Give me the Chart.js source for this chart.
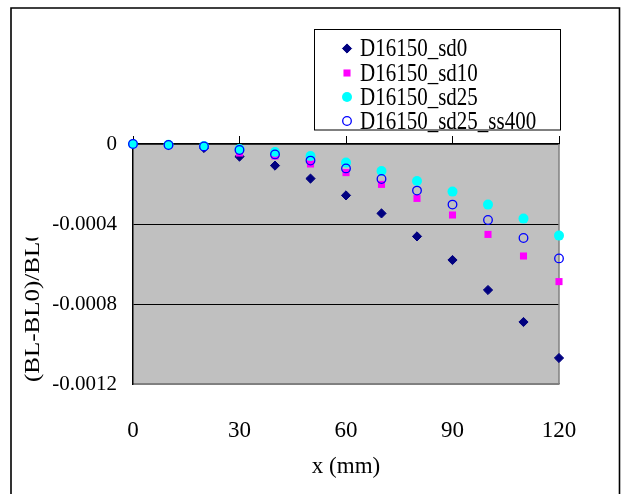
<!DOCTYPE html>
<html>
<head>
<meta charset="utf-8">
<script src="https://cdn.jsdelivr.net/npm/chart.js@4.4.1/dist/chart.umd.min.js"></script>
<style>
html,body{margin:0;padding:0;background:#fff;}
canvas{display:block;}
</style>
</head>
<body>
<canvas id="c" width="621" height="494"></canvas>
<script>
// ---- data ----
const xValues = [0, 10, 20, 30, 40, 50, 60, 70, 80, 90, 100, 110, 120];
const sd0 = [0, -0.000005, -0.00002, -0.000063, -0.000108, -0.000173, -0.000257, -0.000347, -0.000462, -0.00058, -0.00073, -0.00089, -0.00107];
const sd10 = [0, -0.000003, -0.00001, -0.000045, -0.00006, -0.0001, -0.000143, -0.000202, -0.000272, -0.000355, -0.000452, -0.00056, -0.000688];
const sd25 = [0, -0.000004, -0.00001, -0.000025, -0.00004, -0.00006, -0.000093, -0.000135, -0.000185, -0.000238, -0.000303, -0.000373, -0.000458];
const sd25ss400 = [0, -0.000005, -0.000012, -0.00003, -0.000052, -0.000083, -0.000122, -0.000175, -0.000233, -0.000303, -0.00038, -0.00047, -0.000572];
const seriesNames = ['D16150_sd0', 'D16150_sd10', 'D16150_sd25', 'D16150_sd25_ss400'];
const xTickLabels = ['0', '30', '60', '90', '120'];
const yTickLabels = ['0', '-0.0004', '-0.0008', '-0.0012'];
const xTitle = 'x (mm)';
const yTitle = '(BL-BL0)/BL0';

const FONT = "'Liberation Serif', 'Times New Roman', serif";

function pts(ys) { return xValues.map((x, i) => ({x: x, y: ys[i]})); }

const styles = [
  {pointStyle: 'rectRot', pointRadius: 4.6, backgroundColor: '#000080', borderColor: '#000080', pointBorderWidth: 1},
  {pointStyle: 'rect', pointRadius: 5, backgroundColor: '#FF00FF', borderColor: '#FF00FF', pointBorderWidth: 0},
  {pointStyle: 'circle', pointRadius: 5, backgroundColor: '#00FFFF', borderColor: '#00FFFF', pointBorderWidth: 0},
  {pointStyle: 'circle', pointRadius: 4.3, backgroundColor: 'rgba(0,0,0,0)', borderColor: '#0000FF', pointBorderWidth: 1.3}
];
const seriesData = [sd0, sd10, sd25, sd25ss400];

const datasets = seriesData.map((d, i) => Object.assign({
  label: seriesNames[i],
  data: pts(d),
  showLine: false,
  clip: false,
  order: 3 - i,
  pointBackgroundColor: styles[i].backgroundColor,
  pointBorderColor: styles[i].borderColor
}, styles[i]));

const decorPlugin = {
  id: 'decor',
  beforeDraw(chart) {
    const {ctx, chartArea: a} = chart;
    ctx.save();
    ctx.fillStyle = '#fff';
    ctx.fillRect(0, 0, chart.width, chart.height);
    ctx.fillStyle = '#C0C0C0';
    ctx.fillRect(a.left, a.top, a.right - a.left, a.bottom - a.top);
    ctx.restore();
  },
  beforeDatasetsDraw(chart) {
    const {ctx, chartArea: a} = chart;
    ctx.save();
    ctx.strokeStyle = '#808080';
    ctx.lineWidth = 1.5;
    ctx.beginPath();
    ctx.moveTo(a.right, a.top);
    ctx.lineTo(a.right, a.bottom);
    ctx.stroke();
    ctx.restore();
  },
  afterDraw(chart) {
    const ctx = chart.ctx;
    ctx.save();
    // outer frame
    ctx.strokeStyle = '#000';
    ctx.lineWidth = 1.6;
    ctx.beginPath();
    ctx.moveTo(11, 500);
    ctx.lineTo(11, 8);
    ctx.lineTo(619.5, 8);
    ctx.lineTo(619.5, 500);
    ctx.stroke();

    // y axis title (clipped like the original)
    ctx.save();
    ctx.beginPath();
    ctx.rect(0, 237.5, 100, 256);
    ctx.clip();
    ctx.translate(39, 382);
    ctx.rotate(-Math.PI / 2);
    ctx.scale(1.19, 1);
    ctx.font = '21px ' + FONT;
    ctx.fillStyle = '#000';
    ctx.textAlign = 'left';
    ctx.textBaseline = 'alphabetic';
    ctx.fillText(yTitle, 0, 0);
    ctx.restore();

    // legend
    const lx = 314, ly = 29.5, lw = 246, lh = 100.5;
    ctx.fillStyle = '#fff';
    ctx.fillRect(lx, ly, lw, lh);
    ctx.strokeStyle = '#000';
    ctx.lineWidth = 1;
    ctx.strokeRect(lx + 0.5, ly, lw, lh);
    ctx.font = '21px ' + FONT;
    ctx.textBaseline = 'middle';
    ctx.textAlign = 'left';
    const rows = [48.5, 73, 97, 121];
    chart.data.datasets.forEach((ds, i) => {
      const y = rows[i];
      ctx.fillStyle = ds.backgroundColor;
      ctx.strokeStyle = ds.borderColor;
      ctx.lineWidth = ds.pointBorderWidth;
      Chart.helpers.drawPoint(ctx, {
        pointStyle: ds.pointStyle, radius: ds.pointRadius, rotation: 0, borderWidth: ds.pointBorderWidth
      }, 347, y);
      ctx.save();
      ctx.translate(360, y + 1);
      ctx.scale(1, 1.18);
      ctx.fillStyle = '#000';
      ctx.fillText(ds.label, 0, 0);
      ctx.restore();
    });
    ctx.restore();
  }
};

new Chart(document.getElementById('c'), {
  type: 'scatter',
  data: {datasets: datasets},
  plugins: [decorPlugin],
  options: {
    responsive: false,
    animation: false,
    devicePixelRatio: 1,
    events: [],
    layout: {padding: {left: 0, right: 62, top: 136, bottom: 0}},
    plugins: {legend: {display: false}, tooltip: {enabled: false}},
    scales: {
      x: {
        type: 'linear', position: 'bottom', min: 0, max: 120,
        afterFit(s) { s.height = 110; },
        grid: {display: false},
        border: {display: true, color: '#808080', width: 1.5},
        ticks: {
          stepSize: 30, padding: 25, color: '#000',
          font: {family: FONT, size: 23},
          callback: (v) => { const i = xTickLabels.indexOf(String(v)); return i >= 0 ? xTickLabels[i] : ''; }
        },
        title: {display: true, text: xTitle, color: '#000', font: {family: FONT, size: 23}, padding: {top: 0, bottom: 13}}
      },
      x2: {
        type: 'linear', position: 'top', min: 0, max: 120,
        afterFit(s) { s.height = 8; },
        grid: {display: true, drawOnChartArea: false, drawTicks: true, tickLength: 8, color: '#000', lineWidth: 1},
        border: {display: true, color: '#000', width: 1.5},
        ticks: {stepSize: 30, display: false}
      },
      y: {
        type: 'linear', position: 'left', min: -0.0012, max: 0,
        afterFit(s) { s.width = 133; },
        grid: {
          display: true, drawTicks: false,
          color: (c) => (c.tick && Math.abs(c.tick.value + 0.0012) < 1e-9) ? '#808080' : '#000',
          lineWidth: (c) => (c.tick && Math.abs(c.tick.value) < 1e-9) ? 1.5 : 1
        },
        border: {display: true, color: '#000', width: 1.5},
        ticks: {
          stepSize: 0.0004, padding: 16, color: '#000',
          font: {family: FONT, size: 21},
          callback: (v) => { const i = Math.round(-v / 0.0004); return yTickLabels[i] !== undefined ? yTickLabels[i] : ''; }
        }
      }
    }
  }
});
</script>
</body>
</html>
